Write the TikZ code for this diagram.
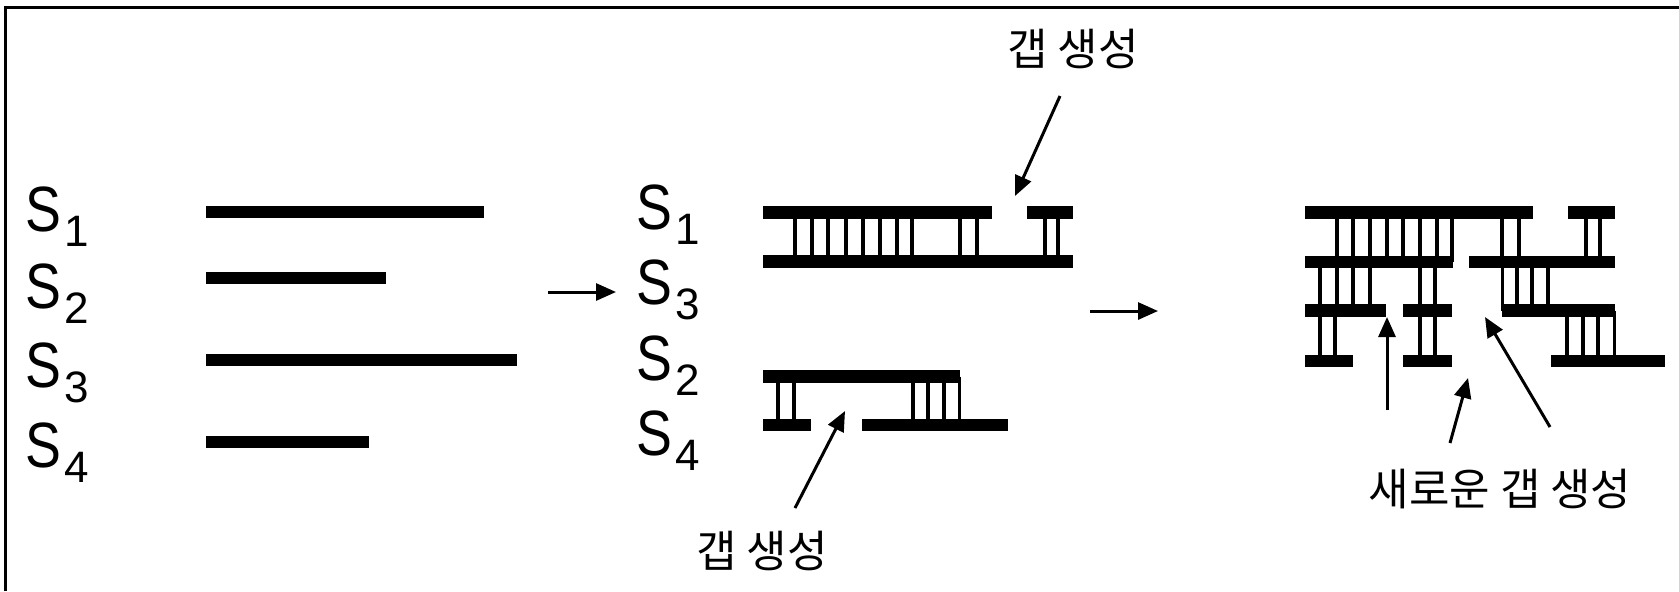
\documentclass[tikz,border=0pt]{standalone}
\usepackage{fontspec}
\setmainfont{Liberation Sans}
\newfontfamily\krfont{Noto Sans CJK KR}
\usetikzlibrary{arrows.meta}
% strand name: a narrow S with a lowered index
\newcommand{\strandname}[1]{\fontsize{32}{32}\selectfont\scalebox{0.84}[1]{S}\kern1.8pt\raisebox{-7.5pt}{\fontsize{22}{22}\selectfont #1}}
\begin{document}
\begin{tikzpicture}[x=0.5pt,y=-0.5pt,
  strand/.style={line width=6.2pt},
  rung/.style={line width=1.75pt},
  pointer/.style={line width=1.5pt,-{Triangle[length=10pt,width=8.5pt]}},
  lbl/.style={inner sep=0pt,anchor=base west},
  note/.style={inner sep=0pt,font=\krfont\fontsize{22}{22}\selectfont}]
\useasboundingbox (0,0) rectangle (1679,591);
% frame
\draw[line width=1.5pt] (5,591) -- (5,7) -- (1679,7);

% ---- single strands ----
\node[lbl] (a1) at (25,231) {\strandname{1}};
\node[lbl] (a2) at (25,308) {\strandname{2}};
\node[lbl] (a3) at (25,387) {\strandname{3}};
\node[lbl] (a4) at (25,467) {\strandname{4}};
\draw[strand] (206,212) -- (484,212);
\draw[strand] (206,278) -- (386,278);
\draw[strand] (206,360) -- (517,360);
\draw[strand] (206,442) -- (369,442);

% step arrow 1
\coordinate (s1a) at (548,292);
\coordinate (s1b) at (616,292);
\draw[pointer] (s1a) -- (s1b);

% ---- paired strands ----
\node[lbl] (b1) at (636,229) {\strandname{1}};
\node[lbl] (b3) at (636,304) {\strandname{3}};
\node[lbl] (b2) at (636,380) {\strandname{2}};
\node[lbl] (b4) at (636,455) {\strandname{4}};
% S1 / S3
\foreach \x in {795,812,828,846,863,880,897,912,960,977,1045,1058}
  \draw[rung] (\x,212.5) -- (\x,261.5);
\draw[strand] (763,212.5) -- (992,212.5);
\draw[strand] (1027,212.5) -- (1073,212.5);
\draw[strand] (763,261.5) -- (1073,261.5);
% S2 / S4
\foreach \x in {778,794,913,928,944,959.5}
  \draw[rung] (\x,376.5) -- (\x,425);
\draw[strand] (763,376.5) -- (960,376.5);
\draw[strand] (763,425) -- (811,425);
\draw[strand] (862,425) -- (1008,425);

% gap notes
\node[note] (gapTop) at (1073,49) {갭 생성};
\coordinate (gt1) at (1060,96);
\coordinate (gt2) at (1015,196);
\draw[pointer] (gt1) -- (gt2);
\node[note] (gapBot) at (762,551) {갭 생성};
\coordinate (gb1) at (795,508);
\coordinate (gb2) at (845,411);
\draw[pointer] (gb1) -- (gb2);

% step arrow 2
\coordinate (s2a) at (1090,311);
\coordinate (s2b) at (1158,311);
\draw[pointer] (s2a) -- (s2b);

% ---- four-strand complex ----
\foreach \x in {1337,1353,1370,1387,1403,1420,1437,1452,1502,1519,1586,1600}
  \draw[rung] (\x,212.5) -- (\x,262);
\foreach \x in {1320,1337,1353,1370,1420,1435,1502.5,1517,1532,1548}
  \draw[rung] (\x,262) -- (\x,310.5);
\foreach \x in {1320,1335,1420,1435,1567,1583,1598,1614.5}
  \draw[rung] (\x,310.5) -- (\x,361);
\draw[strand] (1305,212.5) -- (1533,212.5);
\draw[strand] (1568,212.5) -- (1615,212.5);
\draw[strand] (1305,262) -- (1453,262);
\draw[strand] (1469,262) -- (1615,262);
\draw[strand] (1305,310.5) -- (1386,310.5);
\draw[strand] (1403,310.5) -- (1452,310.5);
\draw[strand] (1502,310.5) -- (1615,310.5);
\draw[strand] (1305,361) -- (1353,361);
\draw[strand] (1403,361) -- (1452,361);
\draw[strand] (1551,361) -- (1665,361);

\node[note] (gapNew) at (1500,489) {새로운 갭 생성};
\coordinate (n1a) at (1387,410);
\coordinate (n1b) at (1387,317);
\draw[pointer] (n1a) -- (n1b);
\coordinate (n2a) at (1450,443);
\coordinate (n2b) at (1468,378);
\draw[pointer] (n2a) -- (n2b);
\coordinate (n3a) at (1550,427);
\coordinate (n3b) at (1485,317);
\draw[pointer] (n3a) -- (n3b);
\end{tikzpicture}
\end{document}
